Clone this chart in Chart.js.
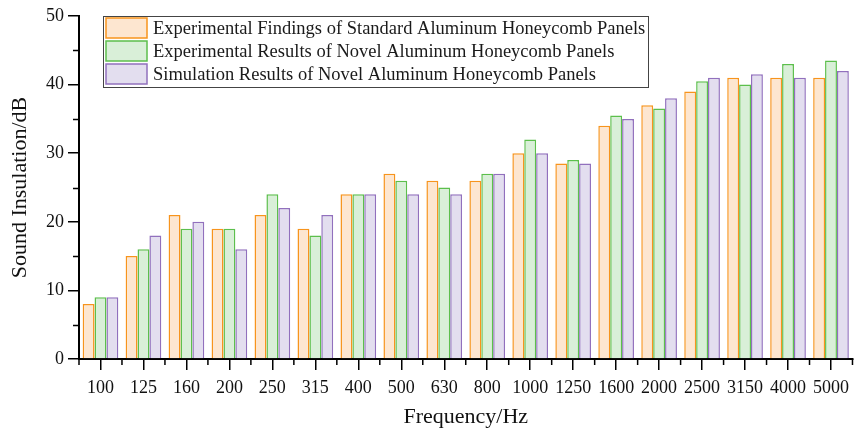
<!DOCTYPE html>
<html>
<head>
<meta charset="utf-8">
<script src="https://cdn.jsdelivr.net/npm/chart.js@4.4.1/dist/chart.umd.min.js"></script>
<style>
  html, body { margin: 0; padding: 0; background: #fff; }
  #wrap { width: 856px; height: 433px; position: relative; }
</style>
</head>
<body>
<div id="wrap"><canvas id="chart"></canvas></div>
<script>
const frequencies = ['100', '125', '160', '200', '250', '315', '400', '500', '630', '800',
  '1000', '1250', '1600', '2000', '2500', '3150', '4000', '5000'];
const standardExp = [8, 15, 21, 19, 21, 19, 24, 27, 26, 26, 30, 28.5, 34, 37, 39, 41, 41, 41];
const novelExp = [9, 16, 19, 19, 24, 18, 24, 26, 25, 27, 32, 29, 35.5, 36.5, 40.5, 40, 43, 43.5];
const novelSim = [9, 18, 20, 16, 22, 21, 24, 24, 24, 27, 30, 28.5, 35, 38, 41, 41.5, 41, 42];

const seriesNames = [
  'Experimental Findings of Standard Aluminum Honeycomb Panels',
  'Experimental Results of Novel Aluminum Honeycomb Panels',
  'Simulation Results of Novel Aluminum Honeycomb Panels',
];
const borderColors = ['#f7941d', '#5cbf4c', '#9170bd'];
const fillColors = ['#fde6d0', '#d9efd8', '#e3deef'];

const serif = '"Liberation Serif", "Times New Roman", serif';

// minor ticks between the labelled ones (Origin style)
const minorTicks = {
  id: 'minorTicks',
  afterDraw(chart) {
    const { ctx, chartArea, scales } = chart;
    ctx.save();
    ctx.strokeStyle = '#000';
    ctx.lineWidth = 1.5;
    ctx.beginPath();
    for (let v = 5; v < 50; v += 10) {
      const y = Math.round(scales.y.getPixelForValue(v)) + 0.5;
      ctx.moveTo(chartArea.left - 6, y);
      ctx.lineTo(chartArea.left, y);
    }
    for (let i = 0; i <= frequencies.length; i++) {
      const x = scales.x.getPixelForValue(i - 0.5);
      ctx.moveTo(x, chartArea.bottom);
      ctx.lineTo(x, chartArea.bottom + 6);
    }
    ctx.stroke();
    ctx.restore();
  },
};

// framed legend sitting inside the plot, top left
const boxLegend = {
  id: 'boxLegend',
  afterDraw(chart) {
    const { ctx } = chart;
    const left = 103;
    const top = 16;
    const w = 545;
    const h = 71;
    ctx.save();
    ctx.fillStyle = '#fff';
    ctx.fillRect(left, top, w, h);
    ctx.strokeStyle = '#444';
    ctx.lineWidth = 1;
    ctx.strokeRect(left + 0.5, top + 0.5, w, h);
    ctx.font = '18.5px ' + serif;
    ctx.textBaseline = 'middle';
    chart.data.datasets.forEach((ds, i) => {
      const y = top + 2 + i * 23;
      ctx.fillStyle = ds.backgroundColor;
      ctx.fillRect(left + 3, y, 41, 20);
      ctx.strokeStyle = ds.borderColor;
      ctx.lineWidth = 1.5;
      ctx.strokeRect(left + 3, y, 41, 20);
      ctx.fillStyle = '#1a1a1a';
      ctx.fillText(ds.label, left + 50, y + 11);
    });
    ctx.restore();
  },
};

const datasets = [standardExp, novelExp, novelSim].map((values, i) => ({
  label: seriesNames[i],
  data: values,
  backgroundColor: fillColors[i],
  borderColor: borderColors[i],
  borderWidth: 1.5,
  borderSkipped: 'bottom',
  barPercentage: 1,
  categoryPercentage: 0.83,
}));

new Chart(document.getElementById('chart'), {
  type: 'bar',
  data: { labels: frequencies, datasets },
  plugins: [minorTicks, boxLegend],
  options: {
    responsive: true,
    maintainAspectRatio: false,
    animation: false,
    layout: { padding: { top: 16, right: 0, left: 0, bottom: 0 } },
    plugins: {
      legend: { display: false },
      tooltip: { enabled: false },
    },
    scales: {
      x: {
        offset: true,
        grid: {
          offset: false,
          drawOnChartArea: false,
          color: '#000',
          lineWidth: 1.5,
          tickLength: 11,
        },
        border: { color: '#000', width: 2 },
        ticks: {
          color: '#111',
          padding: 7,
          maxRotation: 0,
          autoSkip: false,
          font: { family: serif, size: 18 },
        },
        title: {
          display: true,
          text: 'Frequency/Hz',
          color: '#111',
          padding: { top: 0, bottom: 3 },
          font: { family: serif, size: 22 },
        },
        afterFit(scale) { scale.height = 74; },
      },
      y: {
        min: 0,
        max: 50,
        ticks: {
          stepSize: 10,
          color: '#111',
          padding: 4,
          font: { family: serif, size: 18 },
        },
        grid: {
          drawOnChartArea: false,
          color: '#000',
          lineWidth: 1.5,
          tickLength: 11,
        },
        border: { color: '#000', width: 2 },
        title: {
          display: true,
          text: 'Sound Insulation/dB',
          color: '#111',
          padding: { top: 7, bottom: 4 },
          font: { family: serif, size: 22 },
        },
        afterFit(scale) { scale.width = 79; },
      },
    },
  },
});
</script>
</body>
</html>
